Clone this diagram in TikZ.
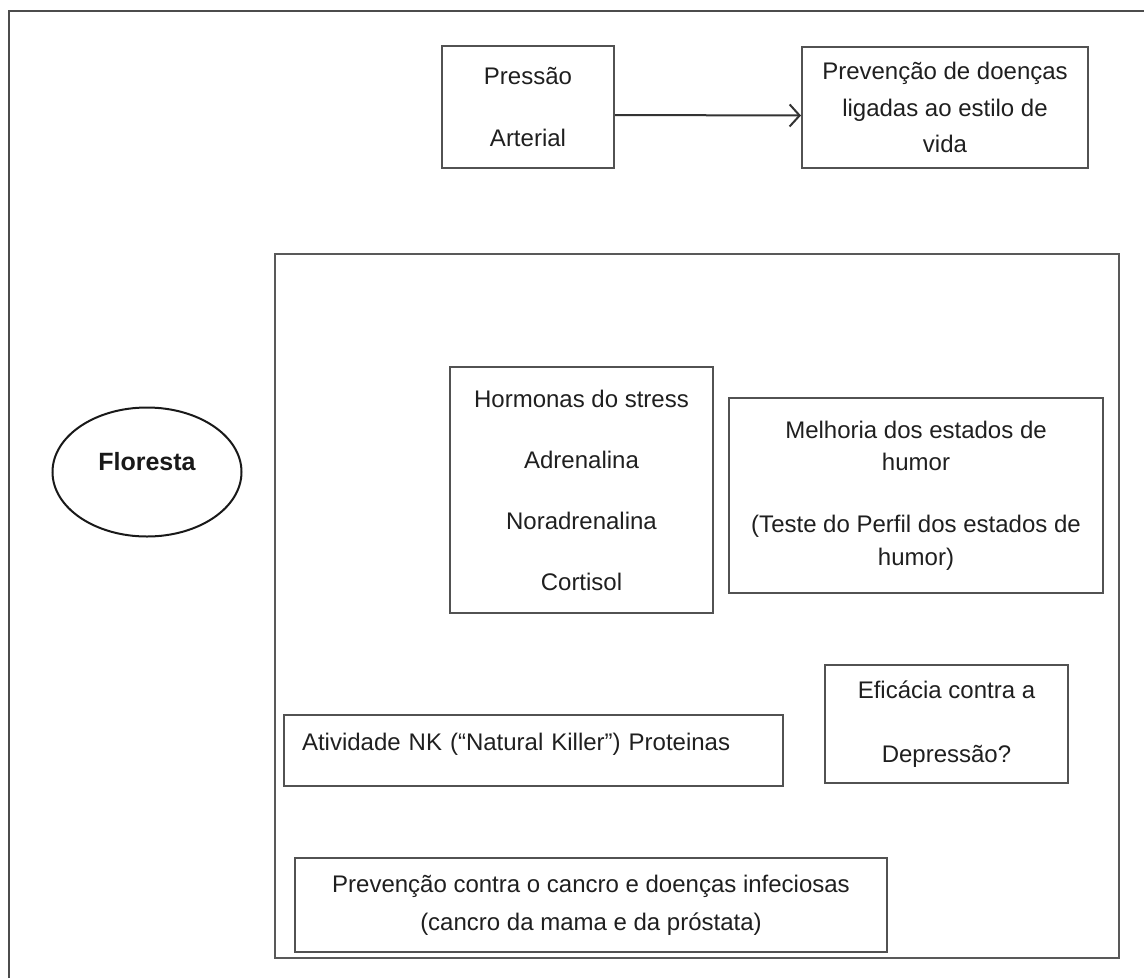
\documentclass[tikz,border=0pt]{standalone}
\usepackage{fontspec}
\setmainfont{Liberation Sans}
\usetikzlibrary{arrows.meta,shapes.geometric}
\begin{document}
\begin{tikzpicture}[x=1pt,y=-1pt,
  framestyle/.style={draw=black!70, line width=2.6pt},
  box/.style={draw=black!68, line width=2pt, align=center, text=black!88,
    font=\fontsize{24}{30}\selectfont, inner sep=0pt},
  panelbox/.style={draw=black!65, line width=2pt, inner sep=0pt},
  oval/.style={ellipse, draw=black!90, line width=2pt, inner sep=0pt, text=black!90,
    font=\bfseries\fontsize{25}{30}\selectfont},
  conn/.style={draw=black!80, line width=2pt,
    -{Straight Barb[length=10pt,width=22pt,line width=2pt]}}]
\useasboundingbox (0,0) rectangle (1144,978);
% outer frame (cut off at right and bottom)
\draw[framestyle] (9,978) -- (9,11) -- (1144,11);

% top row
\node[box, minimum width=172, minimum height=122] (pressao) at (528,107)
  {Pressão\\[32pt]Arterial};
\node[box, minimum width=286, minimum height=121] (prevdoencas) at (945,107.5)
  {Prevenção de doenças\\[6.5pt]ligadas ao estilo de\\[6.5pt]vida};
\draw[conn] ([yshift=-8pt]pressao.east) -- ([yshift=-8pt]prevdoencas.west);

% forest
\node[oval, minimum width=189, minimum height=129, text height=18pt, text depth=22pt]
  (floresta) at (147,472) {Floresta};

% big panel
\node[panelbox, minimum width=844, minimum height=704] (panel) at (697,606) {};

\node[box, minimum width=263, minimum height=246] (hormonas) at (581.5,490)
  {Hormonas do stress\\[31pt]Adrenalina\\[31pt]Noradrenalina\\[31pt]Cortisol};
\node[box, minimum width=374, minimum height=195] (melhoria) at (916,495.5)
  {Melhoria dos estados de\\[2pt]humor\\[32pt](Teste do Perfil dos estados de\\[3pt]humor)};
\node[box, minimum width=243, minimum height=118] (eficacia) at (946.5,724)
  {Eficácia contra a\\[34pt]Depressão?};
\node[box, minimum width=499, minimum height=71, align=left, text width=463,
  text height=17pt, text depth=17pt] (atividade) at (533.5,750.5)
  {Atividade NK (“Natural Killer”) Proteinas};
\node[box, minimum width=592, minimum height=94] (prevcancro) at (591,905)
  {Prevenção contra o cancro e doenças infeciosas\\[8pt](cancro da mama e da próstata)};
\end{tikzpicture}
\end{document}
